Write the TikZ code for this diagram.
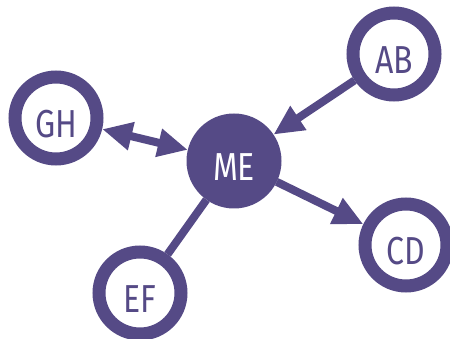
\documentclass[tikz,border=0pt]{standalone}
\usepackage{fontspec}
\setmainfont[FakeStretch=0.82]{Fira Sans}
\usetikzlibrary{arrows.meta}
\definecolor{purp}{RGB}{85,74,134}
\tikzset{
  ring/.style={circle,draw=purp,line width=13pt,fill=white,minimum size=82pt,inner sep=0pt},
  hub/.style={circle,fill=purp,minimum size=95pt,inner sep=0pt,outer sep=0pt},
  lbl/.style={font=\fontsize{39}{39}\selectfont,text=purp,inner sep=0pt},
  hublbl/.style={lbl,text=white},
  link/.style={draw=purp,line width=8pt},
  tip/.style={-{Triangle[length=30pt,width=27pt]}},
}
\begin{document}
\begin{tikzpicture}[x=1pt,y=-1pt]
\useasboundingbox (0,0) rectangle (450,339);
\node[hub] (me) at (234,161) {};
\node[ring] (ab) at (394,54) {};
\node[ring] (gh) at (56,118) {};
\node[ring] (cd) at (406,245) {};
\node[ring] (ef) at (140,293) {};
\draw[link,tip] (ab) -- (me);
\draw[link,tip] (me) -- (cd);
\draw[link,{Triangle[length=30pt,width=27pt]}-{Triangle[length=30pt,width=27pt]}] (gh) -- (me);
\draw[link] (me) -- (ef);
\node[hublbl] (tme) at ([yshift=-6pt]me.center) {ME};
\node[lbl] (tab) at ([yshift=-6pt]ab.center) {AB};
\node[lbl] (tgh) at ([yshift=-6pt]gh.center) {GH};
\node[lbl] (tcd) at ([yshift=-6pt]cd.center) {CD};
\node[lbl] (tef) at ([yshift=-6pt]ef.center) {EF};
\end{tikzpicture}
\end{document}
